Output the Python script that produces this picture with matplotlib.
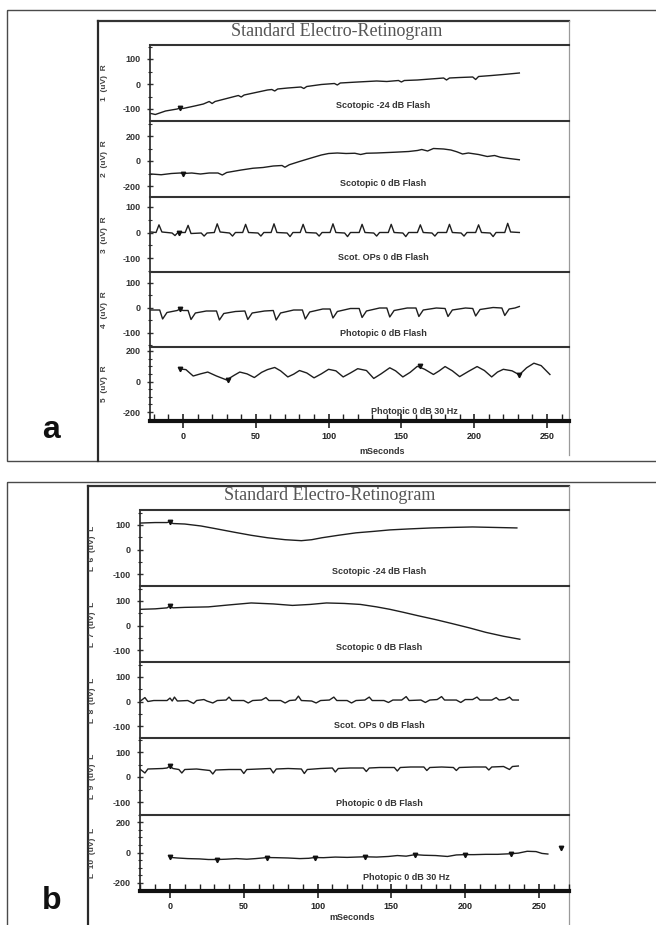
import numpy as np
import matplotlib
matplotlib.use('Agg')
import matplotlib.pyplot as plt
from matplotlib.patches import Rectangle
from matplotlib.ticker import MultipleLocator, FixedLocator

W, H = 656, 925

# ---- data: (ms, uV) pairs ----
a_scot24 = [(-22, -118), (-19, -122), (-12, -108), (-4, -100), (-2, -96), (0, -98), (8, -88), (14, -80),
            (18, -70), (20, -78), (22, -70), (30, -58), (38, -46), (40, -52), (42, -44), (50, -34),
            (58, -24), (61, -22), (63, -28), (65, -20), (72, -16), (81, -12), (83, -18), (85, -10),
            (95, -2), (104, 2), (106, -4), (108, 4), (120, 8), (133, 12), (140, 10), (148, 14),
            (150, 8), (152, 14), (161, 16), (170, 20), (179, 24), (181, 16), (183, 24), (190, 26),
            (199, 28), (201, 18), (203, 30), (212, 34), (220, 38), (231, 44)]
a_scot0 = [(-22, -104), (-15, -110), (-8, -100), (-2, -96), (0, -100), (6, -96), (12, -104), (18, -96),
           (24, -96), (27, -112), (30, -92), (40, -72), (48, -58), (55, -52), (62, -40), (68, -36),
           (70, -50), (73, -30), (80, -4), (88, 24), (95, 48), (100, 60), (106, 64), (112, 60),
           (118, 62), (122, 52), (126, 62), (133, 64), (145, 70), (155, 76), (161, 84), (164, 92),
           (168, 80), (172, 100), (179, 96), (184, 88), (188, 74), (192, 56), (196, 64), (203, 52),
           (209, 36), (214, 44), (218, 30), (224, 20), (231, 10)]
a_ops = [(-22, 2), (-18.5, 0), (-16.5, 30), (-14.5, 2), (-7.5, -2), (-5.5, -12), (-3.5, 0),
         (1.5, 0), (3.5, 28), (5.5, -4), (12.5, -2), (14.5, -14), (16.5, -2),
         (21.5, 0), (23.5, 34), (25.5, 2), (32, -2), (34, -14), (36, 0),
         (41, 0), (43, 32), (45, 0), (51.5, -2), (53.5, -14), (55.5, 0),
         (60.5, 0), (62.5, 34), (64.5, 0), (71.5, -2), (73.5, -16), (75.5, 0),
         (80.5, 0), (82.5, 32), (84.5, 0), (91.5, -2), (93.5, -14), (95.5, 0),
         (101, 0), (103, 34), (105, 0), (111, -2), (113, -16), (115, 0),
         (121, 0), (123, 32), (125, 0), (131, -2), (133, -14), (135, 0),
         (141, 0), (143, 32), (145, 0), (151, -2), (153, -16), (155, 0),
         (161, 0), (163, 30), (165, 0), (171, -2), (173, -14), (175, 0),
         (181, 0), (183, 32), (185, 0), (191, -2), (193, -14), (195, 0),
         (201, 0), (203, 30), (205, 0), (211, -2), (213, -16), (215, 0),
         (221, 0), (223, 36), (225, 2), (231, 0)]
a_phot = [(-22, -8), (-16, -8), (-14, -44), (-11, -18), (-4, -10), (-2, -4), (0, -10), (3.5, -10),
          (5.5, -46), (8.5, -20), (16, -12), (23, -12), (25, -48), (28, -22), (36, -14), (42.5, -12),
          (44.5, -46), (47.5, -20), (56, -12), (62, -10), (64, -48), (67, -20), (76, -8), (82, -8),
          (84, -44), (87, -16), (96, -4), (101, -4), (103, -40), (106, -14), (115, -2), (121, -2),
          (123, -38), (126, -12), (135, 0), (140, 0), (142, -36), (145, -10), (154, 0), (160, 0),
          (162, -34), (165, -8), (174, 0), (180, -2), (182, -34), (185, -8), (194, 0), (199, -2),
          (201, -32), (204, -6), (213, 2), (219, 0), (221, -30), (224, -4), (228, 0), (231, 6)]
a_flick = [(-2, 82), (2, 78), (7, 36), (12, 50), (17, 62), (23, 36), (30, 10), (35, 40), (39, 62),
           (44, 50), (49, 26), (54, 60), (58, 78), (63, 92), (67, 70), (72, 30), (76, 48), (80, 72),
           (85, 56), (90, 24), (95, 50), (100, 80), (105, 70), (110, 30), (115, 56), (120, 84),
           (126, 72), (131, 20), (136, 50), (142, 90), (146, 70), (151, 30), (156, 60), (161, 100),
           (166, 80), (172, 46), (176, 70), (180, 98), (185, 70), (190, 32), (196, 66), (202, 98),
           (207, 72), (212, 30), (216, 62), (220, 80), (226, 70), (231, 44), (236, 90), (241, 120),
           (246, 104), (252, 46)]

b_scot24 = [(-20, 108), (-10, 110), (-2, 110), (0, 114), (2, 106), (10, 104), (21, 96), (30, 86),
            (44, 70), (55, 58), (66, 48), (78, 40), (89, 36), (96, 40), (103, 48), (114, 58),
            (126, 68), (138, 74), (149, 80), (162, 84), (177, 88), (190, 90), (205, 92), (220, 90),
            (235, 88)]
b_scot0 = [(-20, 66), (-10, 68), (-2, 72), (0, 80), (2, 72), (10, 74), (26, 76), (40, 84), (55, 92),
           (70, 88), (83, 82), (95, 86), (106, 92), (118, 90), (129, 86), (140, 76), (149, 66),
           (158, 54), (168, 40), (180, 24), (191, 8), (203, -10), (214, -28), (226, -44), (237, -56)]
b_ops = [(-20, 2), (-17, 16), (-15, 0), (-11, 4), (-2, 4), (0, 14), (1.5, 2), (3, 18), (5, 2),
         (12, 4), (16, -8), (18, 4), (23, 8), (25, 2), (29, -6), (32, 4), (38, 6), (40, 18), (42, 4),
         (50, 4), (53, -6), (56, 4), (62, 6), (65, 16), (67, 4), (75, 4), (78, -6), (81, 4), (85, 6),
         (87, 22), (89, 4), (96, 2), (99, -6), (102, 4), (108, 6), (111, 18), (113, 4), (120, 4),
         (123, -6), (126, 4), (132, 6), (135, 18), (137, 4), (145, 4), (148, -4), (151, 6),
         (157, 6), (160, 20), (162, 4), (170, 6), (173, -4), (176, 6), (181, 8), (184, 20),
         (186, 6), (194, 6), (197, -4), (200, 8), (205, 8), (208, 18), (210, 6), (218, 6),
         (221, 16), (223, 6), (227, 8), (230, 18), (232, 6), (236, 6)]
b_phot = [(-20, 30), (-17, 16), (-15, 32), (-5, 34), (-2, 36), (0, 44), (2, 34), (6, 30), (8, 16),
          (10, 30), (18, 32), (27, 26), (29, 12), (31, 28), (40, 30), (48, 30), (50, 14), (52, 30),
          (60, 32), (68, 34), (70, 16), (72, 32), (80, 34), (89, 32), (91, 14), (93, 30), (102, 34),
          (110, 36), (112, 20), (114, 34), (122, 36), (131, 36), (133, 22), (135, 36), (142, 38),
          (152, 38), (154, 24), (156, 38), (163, 40), (172, 40), (174, 26), (176, 38), (184, 40),
          (192, 38), (194, 26), (196, 38), (206, 40), (214, 40), (216, 28), (218, 40), (226, 42),
          (230, 30), (232, 42), (236, 44)]
b_flick = [(0, -32), (5, -36), (12, -40), (20, -42), (26, -46), (32, -46), (38, -44), (45, -40),
           (52, -44), (58, -40), (66, -33), (72, -34), (80, -36), (88, -40), (94, -38), (98, -33),
           (104, -34), (112, -30), (120, -32), (126, -30), (132, -28), (140, -30), (148, -26),
           (154, -20), (160, -24), (166, -14), (172, -18), (180, -20), (188, -26), (194, -16),
           (200, -14), (206, -14), (214, -12), (222, -12), (231, -8), (236, -4), (242, 8),
           (248, 6), (252, -6), (256, -10)]

# stimulus / cursor marks on the traces
a_marks = [[(-2, -96)], [(0, -100)], [(-3, 0)], [(-2, -4)], [(-2, 82), (31, 10), (163, 100), (231, 44)]]
b_marks = [[(0, 114)], [(0, 80)], [], [(0, 44)],
           [(0, -32), (32, -46), (66, -33), (98, -33), (132, -28), (166, -14), (200, -14), (231, -8), (265, 27)]]

captions = ['Scotopic -24 dB Flash', 'Scotopic 0 dB Flash', 'Scot. OPs 0 dB Flash',
            'Photopic 0 dB Flash', 'Photopic 0 dB 30 Hz']
a_ylims = [100, 200, 100, 100, 200]   # tick values +-
b_ylims = [100, 100, 100, 100, 200]
a_side = ['%d  (uV)  R' % i for i in range(1, 6)]
b_side = ['L  %d  (uV)  L' % i for i in range(6, 11)]
x_ticks = [0, 50, 100, 150, 200, 250]

# ---- layout in pixels of the scanned panels ----
panel_a = dict(box=(7, 10, 461), scan=(98, 21, 569, 457), axis_x=150, right=569, x0=183, x250=547,
               bounds=[45, 121, 197, 272, 347, 421], tickpx=[(59, 109), (136, 186), (207, 258), (283, 333), (351, 412)],
               title=(337, 31), caps=[(383, 106), (383, 183), (383, 257), (383, 334), (414, 411)],
               side_x=104, letter=('a', 42, 438), xlabel=(382, 452))
panel_b = dict(box=(7, 482, 945), scan=(88, 486, 569, 930), axis_x=140, right=569, x0=170, x250=539,
               bounds=[510, 586, 662, 738, 815, 891], tickpx=[(525, 574), (601, 650), (677, 726), (752, 802), (822, 883)],
               title=(330, 496), caps=[(379, 572), (379, 648), (379, 725), (379, 803), (406, 878)],
               side_x=93, letter=('b', 42, 909), xlabel=(352, 918))

plt.rcParams['font.family'] = ['Liberation Sans', 'DejaVu Sans']
fig = plt.figure(figsize=(W / 100, H / 100), dpi=100)
bg = fig.add_axes([0, 0, 1, 1])
bg.set_xlim(0, W)
bg.set_ylim(H, 0)
bg.axis('off')


def px_axes(x0, y0, x1, y1):
    return fig.add_axes([x0 / W, 1 - y1 / H, (x1 - x0) / W, (y1 - y0) / H])


def draw_panel(cfg, traces, marks, ylims, side):
    bx, by0, by1 = cfg['box']
    bg.add_patch(Rectangle((bx, by0), 760, by1 - by0, fill=False, ec='#4a4a4a', lw=1.0))
    sx0, sy0, sx1, sy1 = cfg['scan']
    bg.plot([sx0, sx1], [sy0, sy0], color='#333333', lw=1.6)
    bg.plot([sx0, sx0], [sy0, cfg['box'][2]], color='#2a2a2a', lw=1.6)
    bg.plot([sx1, sx1], [sy0, sy1 - 2], color='#9a9a9a', lw=0.9)
    bg.text(cfg['title'][0], cfg['title'][1], 'Standard Electro-Retinogram', family='Liberation Serif',
            fontsize=13, color='#555555', ha='center', va='center', fontweight='normal')
    lab, lx, ly = cfg['letter']
    bg.text(lx, ly, lab, fontsize=23, fontweight='bold', color='#111111', ha='left', va='baseline')
    bg.text(cfg['xlabel'][0], cfg['xlabel'][1], 'mSeconds', fontsize=6.5, fontweight='bold',
            color='#333333', ha='center', va='center')

    k = (cfg['x250'] - cfg['x0']) / 250.0
    xlo = (cfg['axis_x'] - cfg['x0']) / k
    xhi = (cfg['right'] - cfg['x0']) / k
    b = cfg['bounds']
    for i in range(5):
        y0, y1 = b[i], b[i + 1]
        ax = px_axes(cfg['axis_x'], y0, cfg['right'], y1)
        ax.patch.set_alpha(0)
        ax.set_xlim(xlo, xhi)
        p_hi, p_lo = cfg['tickpx'][i]
        v = ylims[i]
        u = 2.0 * v / (p_lo - p_hi)
        ax.set_ylim(-v - (y1 - p_lo) * u, v + (p_hi - y0) * u)
        ax.spines['right'].set_visible(False)
        ax.spines['top'].set_color('#333333')
        ax.spines['top'].set_linewidth(1.5)
        ax.spines['left'].set_color('#222222')
        ax.spines['left'].set_linewidth(1.2)
        ax.yaxis.set_major_locator(FixedLocator([-v, 0, v]))
        ax.yaxis.set_minor_locator(MultipleLocator(v / 2.0 if i < 4 else 50))
        ax.set_yticklabels([str(-v), '0', str(v)])
        ax.tick_params(axis='y', which='major', direction='inout', length=5, width=1.0,
                       labelsize=6.5, pad=4, colors='#333333')
        ax.tick_params(axis='y', which='minor', direction='inout', length=3, width=0.8, colors='#333333')
        for tl in ax.get_yticklabels():
            tl.set_fontweight('bold')
        if i < 4:
            ax.spines['bottom'].set_visible(False)
            ax.tick_params(axis='x', which='both', bottom=False, labelbottom=False)
        else:
            ax.spines['bottom'].set_linewidth(3)
            ax.spines['bottom'].set_color('#111111')
            ax.xaxis.set_major_locator(FixedLocator(x_ticks))
            ax.xaxis.set_minor_locator(MultipleLocator(10))
            ax.tick_params(axis='x', which='major', direction='inout', length=10, width=1.2,
                           labelsize=6.5, pad=3, colors='#222222')
            ax.tick_params(axis='x', which='minor', direction='in', length=5, width=1.0, colors='#222222')
            for tl in ax.get_xticklabels():
                tl.set_fontweight('bold')
        tt, vv = np.array(traces[i], dtype=float).T
        ax.plot(tt, vv, color='#1e1e1e', lw=1.0)
        if marks[i]:
            mt, mv = np.array(marks[i], dtype=float).T
            ax.plot(mt, mv, ls='none', marker='v', ms=3.2, color='#111111')
        cx, cy = cfg['caps'][i]
        bg.text(cx, cy, captions[i], fontsize=6.5, fontweight='bold', color='#333333', ha='center', va='center')
        bg.text(cfg['side_x'], (y0 + y1) / 2.0, side[i], rotation=90, fontsize=6, fontweight='bold',
                color='#444444', ha='center', va='center')


draw_panel(panel_a, [a_scot24, a_scot0, a_ops, a_phot, a_flick], a_marks, a_ylims, a_side)
draw_panel(panel_b, [b_scot24, b_scot0, b_ops, b_phot, b_flick], b_marks, b_ylims, b_side)

fig.savefig('out.png', dpi=100, facecolor='white')
